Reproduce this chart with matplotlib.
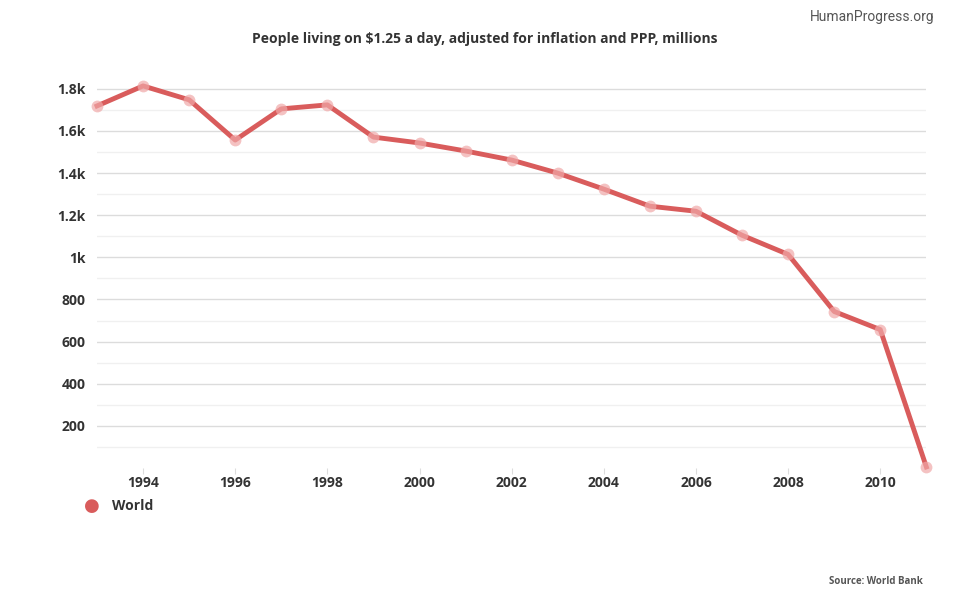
import matplotlib
matplotlib.use('Agg')
from matplotlib import pyplot as plt
from matplotlib.ticker import FixedLocator

years = list(range(1993, 2012))
world = [1719, 1814, 1748, 1557, 1705, 1724, 1571, 1543, 1505, 1462,
         1400, 1324, 1243, 1219, 1105, 1014, 743, 657, 5]

x_ticks = [1994, 1996, 1998, 2000, 2002, 2004, 2006, 2008, 2010]
y_ticks = [200, 400, 600, 800, 1000, 1200, 1400, 1600, 1800]
y_minor = [100, 300, 500, 700, 900, 1100, 1300, 1500, 1700]
y_labels = ['200', '400', '600', '800', '1k', '1.2k', '1.4k', '1.6k', '1.8k']

line_color = '#d95c5c'
text_color = '#333333'

plt.rcParams['font.family'] = ['Open Sans', 'DejaVu Sans']

fig = plt.figure(figsize=(9.7, 6), dpi=100)
ax = fig.add_axes([0.1, 0.22, 0.855, 0.667])

ax.plot(years, world, color=line_color, linewidth=3.5, zorder=3, clip_on=False)
ax.plot(years, world, linestyle='none', marker='o', markersize=8.5,
        markerfacecolor='#f0a8a8', markeredgecolor='none', alpha=0.7,
        zorder=4, clip_on=False)

ax.set_xlim(1993, 2011)
ax.set_ylim(0, 1900)

ax.yaxis.set_major_locator(FixedLocator(y_ticks))
ax.set_yticklabels(y_labels)
ax.yaxis.set_minor_locator(FixedLocator(y_minor))
ax.xaxis.set_major_locator(FixedLocator(x_ticks))
ax.set_xticklabels([str(y) for y in x_ticks])

ax.grid(axis='y', which='major', color='#dcdcdc', linewidth=1)
ax.grid(axis='y', which='minor', color='#f0f0f0', linewidth=1)
ax.set_axisbelow(True)

for s in ax.spines.values():
    s.set_visible(False)

ax.tick_params(axis='y', which='both', length=0, pad=8, labelsize=10,
               labelcolor=text_color)
ax.tick_params(axis='x', which='major', length=4, color='#dddddd', pad=2,
               labelsize=10, labelcolor=text_color)
ax.tick_params(axis='x', which='minor', length=0)
for lab in ax.get_xticklabels() + ax.get_yticklabels():
    lab.set_fontweight('bold')

fig.text(0.5, 0.935, 'People living on $1.25 a day, adjusted for inflation and PPP, millions',
         ha='center', va='center', fontsize=10, fontweight='bold', color=text_color)
fig.text(0.963, 0.972, 'HumanProgress.org', ha='right', va='center',
         fontsize=10, color='#555555', family=['Liberation Sans Narrow', 'Roboto', 'DejaVu Sans'])

# legend
fig.text(0.095, 1 - 506 / 600, '\u25CF', ha='center', va='center',
         fontsize=13, color=line_color, family='DejaVu Sans')
fig.text(0.115, 1 - 506 / 600, 'World', ha='left', va='center',
         fontsize=10, fontweight='bold', color=text_color)

fig.text(0.951, 1 - 581 / 600, 'Source: World Bank', ha='right', va='center',
         fontsize=7, fontweight='bold', color='#555555')

fig.savefig('out.png', dpi=100, facecolor='white')
